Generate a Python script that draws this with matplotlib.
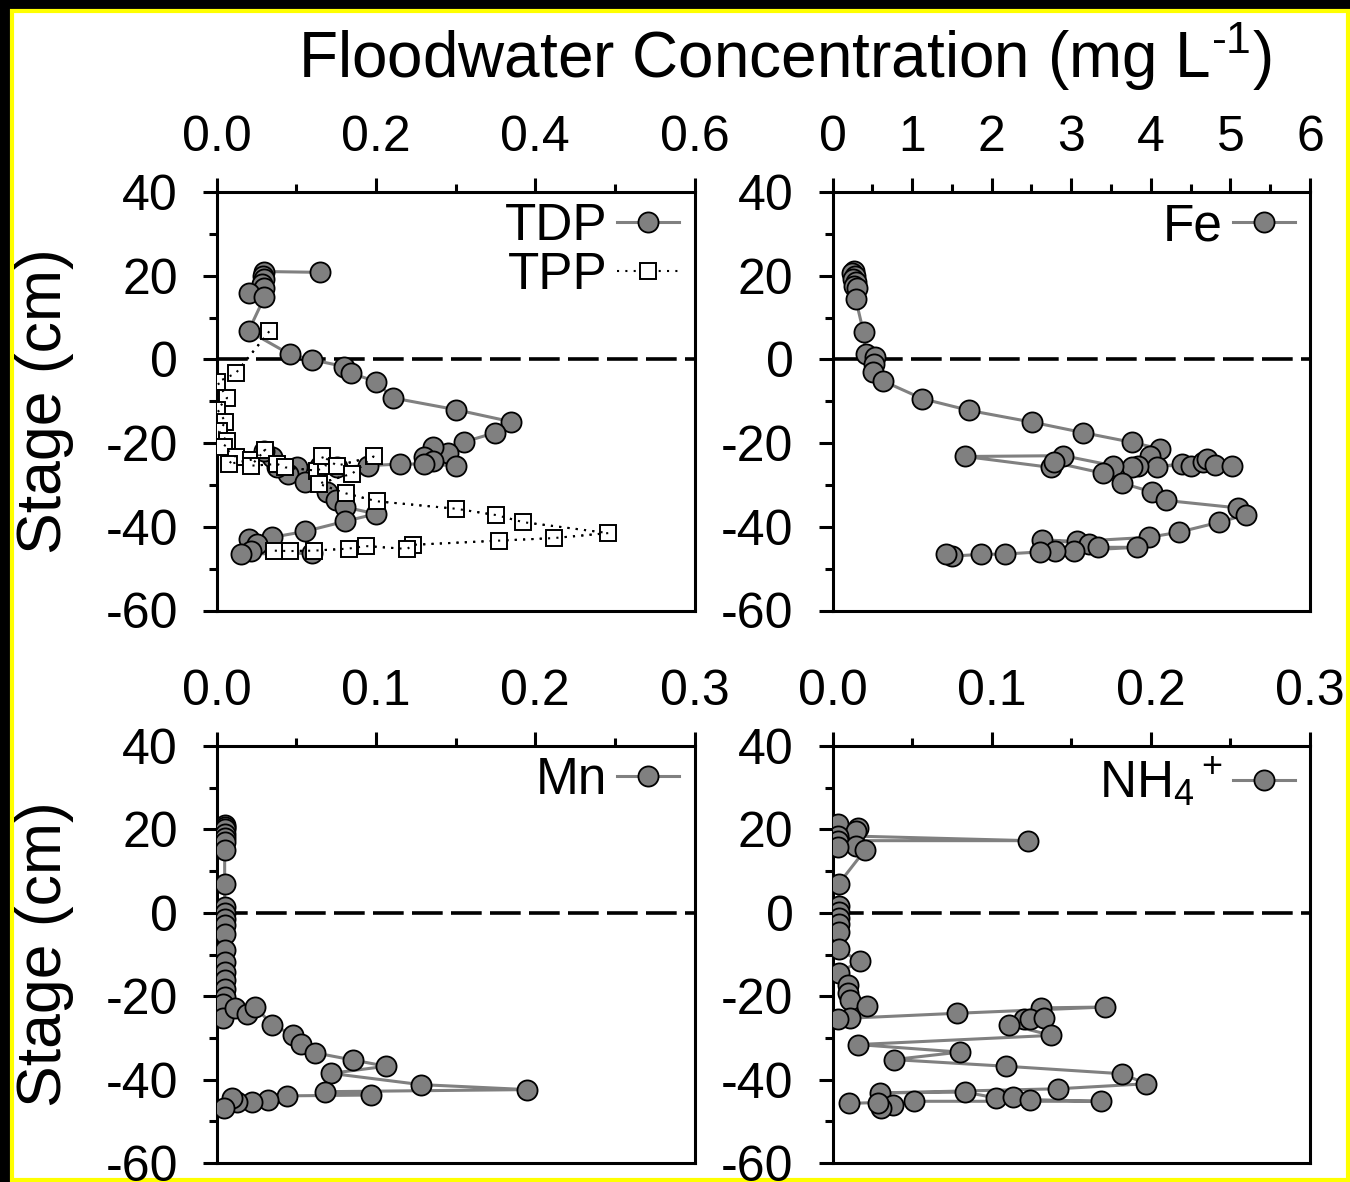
import matplotlib
matplotlib.use("Agg")
from matplotlib import pyplot as plt
from matplotlib.patches import Rectangle
from matplotlib.ticker import MultipleLocator, FormatStrFormatter

plt.rcParams['font.family'] = ['Liberation Sans', 'DejaVu Sans']
plt.rcParams['mathtext.fontset'] = 'custom'
plt.rcParams['mathtext.rm'] = 'Liberation Sans'
plt.rcParams['mathtext.it'] = 'Liberation Sans'
plt.rcParams['axes.unicode_minus'] = False

# TDP (mg/L) vs stage (cm)
tdp_x = [0.130, 0.060, 0.058, 0.060, 0.057, 0.059, 0.040, 0.060, 0.040, 0.092,
         0.120, 0.160, 0.169, 0.200, 0.221, 0.300, 0.370, 0.350, 0.311, 0.290,
         0.271, 0.260, 0.271, 0.300, 0.260, 0.230, 0.190, 0.151, 0.130, 0.101,
         0.089, 0.076, 0.070, 0.060, 0.111, 0.139, 0.150, 0.161, 0.200, 0.161,
         0.111, 0.070, 0.041, 0.051, 0.043, 0.030, 0.120]
tdp_y = [20.8, 21.0, 20.0, 19.2, 18.0, 17.0, 15.9, 14.9, 6.8, 1.2,
         -0.1, -1.7, -3.3, -5.3, -9.2, -12.0, -14.9, -17.5, -19.7, -22.4,
         -21.0, -23.4, -24.2, -25.4, -25.0, -25.0, -25.4, -25.8, -25.4, -25.8,
         -27.3, -25.8, -23.4, -22.0, -29.3, -31.7, -33.5, -35.3, -36.9, -38.7,
         -41.1, -42.5, -42.9, -44.1, -45.7, -46.5, -46.3]

# TPP
tpp_x = [0.066, 0.024, 0.001, 0.013, 0.001, 0.011, 0.003, 0.013, 0.009, 0.024,
         0.015, 0.043, 0.061, 0.043, 0.076, 0.086, 0.126, 0.137, 0.132, 0.151,
         0.197, 0.170, 0.128, 0.162, 0.201, 0.301, 0.351, 0.385, 0.492, 0.423,
         0.355, 0.247, 0.239, 0.187, 0.166, 0.122, 0.092, 0.072]
tpp_y = [6.7, -3.3, -5.4, -9.2, -12.0, -14.9, -17.2, -19.6, -21.0, -23.3,
         -25.0, -24.0, -21.6, -25.4, -25.0, -25.8, -26.6, -25.4, -23.0, -25.4,
         -23.2, -27.3, -29.7, -32.0, -33.9, -35.7, -37.2, -38.9, -41.5, -42.7,
         -43.3, -44.3, -45.3, -44.6, -45.2, -45.7, -45.8, -45.7]

# Fe
fe_x = [0.27, 0.25, 0.28, 0.26, 0.30, 0.27, 0.31, 0.29, 0.39, 0.42,
        0.54, 0.52, 0.51, 0.64, 1.13, 1.72, 2.51, 3.15, 3.76, 4.12,
        3.99, 4.08, 4.39, 4.50, 4.66, 4.70, 4.81, 5.02, 3.84, 3.76,
        3.53, 2.90, 1.67, 2.74, 2.78, 3.40, 3.64, 4.02, 4.19, 5.10,
        5.20, 4.86, 4.35, 3.98, 3.07, 2.63, 3.22, 3.33, 3.83, 3.04,
        2.80, 2.61, 2.17, 1.86, 1.50, 1.42]
fe_y = [21.2, 20.6, 20.0, 19.2, 18.4, 17.6, 17.0, 14.5, 6.5, 1.4,
        0.6, -1.0, -3.0, -5.2, -9.4, -12.2, -15.0, -17.5, -19.8, -21.4,
        -23.0, -25.6, -25.0, -25.4, -24.6, -23.9, -25.2, -25.4, -25.4, -25.6,
        -25.4, -23.0, -23.2, -25.8, -24.6, -27.2, -29.6, -31.7, -33.7, -35.5,
        -37.1, -38.9, -41.3, -42.5, -43.5, -43.1, -44.1, -44.9, -44.9, -45.7,
        -45.7, -46.0, -46.5, -46.6, -47.0, -46.6]

# Mn
mn_x = [0.005, 0.005, 0.005, 0.005, 0.005, 0.005, 0.005, 0.005, 0.005, 0.005,
        0.005, 0.005, 0.005, 0.005, 0.005, 0.005, 0.005, 0.005, 0.005, 0.004,
        0.004, 0.0115, 0.019, 0.024, 0.035, 0.048, 0.053, 0.062, 0.0855, 0.1065,
        0.0717, 0.128, 0.195, 0.068, 0.097, 0.044, 0.032, 0.022, 0.013, 0.0094,
        0.0046]
mn_y = [21.0, 20.5, 20.0, 19.0, 18.0, 17.0, 15.0, 6.9, 1.4, 0.0,
        -1.4, -3.0, -5.0, -9.0, -11.8, -14.2, -16.2, -18.2, -20.2, -21.8,
        -25.3, -22.9, -24.3, -22.5, -26.9, -29.3, -31.5, -33.6, -35.3, -36.8,
        -38.5, -41.2, -42.4, -42.9, -43.7, -43.9, -44.9, -45.3, -45.3, -44.5,
        -46.9]

# NH4+
nh4_x = [0.0035, 0.016, 0.0145, 0.0035, 0.123, 0.0035, 0.0145, 0.0035, 0.0203, 0.004,
         0.004, 0.004, 0.004, 0.004, 0.004, 0.004, 0.017, 0.004, 0.0098, 0.010,
         0.0108, 0.0214, 0.011, 0.0035, 0.078, 0.171, 0.131, 0.120, 0.124, 0.133,
         0.111, 0.1375, 0.016, 0.080, 0.0385, 0.109, 0.182, 0.197, 0.1417, 0.0297,
         0.083, 0.103, 0.1135, 0.124, 0.169, 0.0513, 0.0377, 0.0307, 0.0285, 0.0104]
nh4_y = [21.2, 20.4, 19.6, 18.5, 17.3, 17.3, 16.1, 15.7, 15.0, 7.0,
         1.6, 0.2, -1.2, -2.6, -4.6, -8.8, -11.6, -14.4, -17.2, -19.2,
         -20.8, -22.4, -25.2, -25.4, -24.1, -22.6, -22.8, -25.4, -25.4, -25.2,
         -26.8, -29.4, -31.6, -33.4, -35.2, -36.8, -38.6, -41.0, -42.2, -43.2,
         -43.0, -44.4, -44.2, -44.8, -45.2, -45.2, -46.2, -46.7, -45.5, -45.7]

GREY = '#808080'
W, H = 1350, 1182

fig = plt.figure(figsize=(W / 100, H / 100), dpi=100, facecolor='black')
fig.patches.append(Rectangle((11.5 / W, 2 / H), (1348 - 11.5) / W, (1182 - 10.5 - 2) / H,
                             transform=fig.transFigure, facecolor='white',
                             edgecolor='yellow', lw=3, zorder=-10))

def make_axes(left_px, top_px, right_px, bottom_px):
    return fig.add_axes([left_px / W, 1 - bottom_px / H,
                         (right_px - left_px) / W, (bottom_px - top_px) / H])

def style(ax, xmax, xmajor, xminor, fmt):
    ax.set_xlim(0, xmax)
    ax.set_ylim(-60, 40)
    ax.xaxis.tick_top()
    ax.xaxis.set_major_locator(MultipleLocator(xmajor))
    ax.xaxis.set_minor_locator(MultipleLocator(xminor))
    ax.xaxis.set_major_formatter(FormatStrFormatter(fmt))
    ax.yaxis.set_major_locator(MultipleLocator(20))
    ax.yaxis.set_minor_locator(MultipleLocator(10))
    ax.tick_params(which='both', direction='out', width=2.2, labelsize=36,
                   bottom=False, right=False)
    ax.tick_params(which='major', length=10)
    ax.tick_params(which='minor', length=5.5)
    ax.tick_params(axis='x', pad=12)
    ax.tick_params(axis='y', pad=18)
    for s in ax.spines.values():
        s.set_linewidth(2.2)
    ax.axhline(0, color='black', lw=2.6, dashes=(8.5, 2.3), zorder=1)

def series(ax, x, y, label):
    ax.plot(x, y, '-o', color=GREY, lw=2.2, ms=14.5, mfc=GREY, mec='black',
            mew=1.3, label=label, zorder=3)

def legend(ax):
    ax.legend(loc='upper right', bbox_to_anchor=(1.0, 1.012), frameon=False,
              markerfirst=False, fontsize=37, handlelength=1.2,
              handletextpad=0.2, labelspacing=0.0, borderaxespad=0.2,
              borderpad=0.1)

ax1 = make_axes(216.7, 192, 694.5, 610.5)
ax2 = make_axes(832.5, 192, 1310, 610.5)
ax3 = make_axes(216.7, 746, 694.5, 1163)
ax4 = make_axes(832.5, 746, 1310, 1163)

style(ax1, 0.6, 0.2, 0.1, '%.1f')
style(ax2, 6, 1, 0.5, '%d')
style(ax3, 0.3, 0.1, 0.05, '%.1f')
style(ax4, 0.3, 0.1, 0.05, '%.1f')

series(ax1, tdp_x, tdp_y, 'TDP')
ax1.plot(tpp_x, tpp_y, ls=(0, (1, 3)), color='black', lw=1.5, marker='s', ms=11.5,
         mfc='white', mec='black', mew=1.4, label='TPP', zorder=4)
ax1.plot(tpp_x, tpp_y, ls=(0, (1, 3)), color='black', lw=1.5, zorder=5)
legend(ax1)

series(ax2, fe_x, fe_y, 'Fe')
legend(ax2)

series(ax3, mn_x, mn_y, 'Mn')
legend(ax3)

series(ax4, nh4_x, nh4_y, r'NH$_4$$^+$')
legend(ax4)

fig.text(785 / W, 1 - 57 / H, r'Floodwater Concentration (mg L$^{\text{-1}}$)',
         fontsize=46, ha='center', va='center')
fig.text(45 / W, 1 - 401 / H, 'Stage (cm)', fontsize=45, rotation=90,
         ha='center', va='center')
fig.text(45 / W, 1 - 954 / H, 'Stage (cm)', fontsize=45, rotation=90,
         ha='center', va='center')

fig.savefig('out.png', dpi=100, facecolor=fig.get_facecolor())
